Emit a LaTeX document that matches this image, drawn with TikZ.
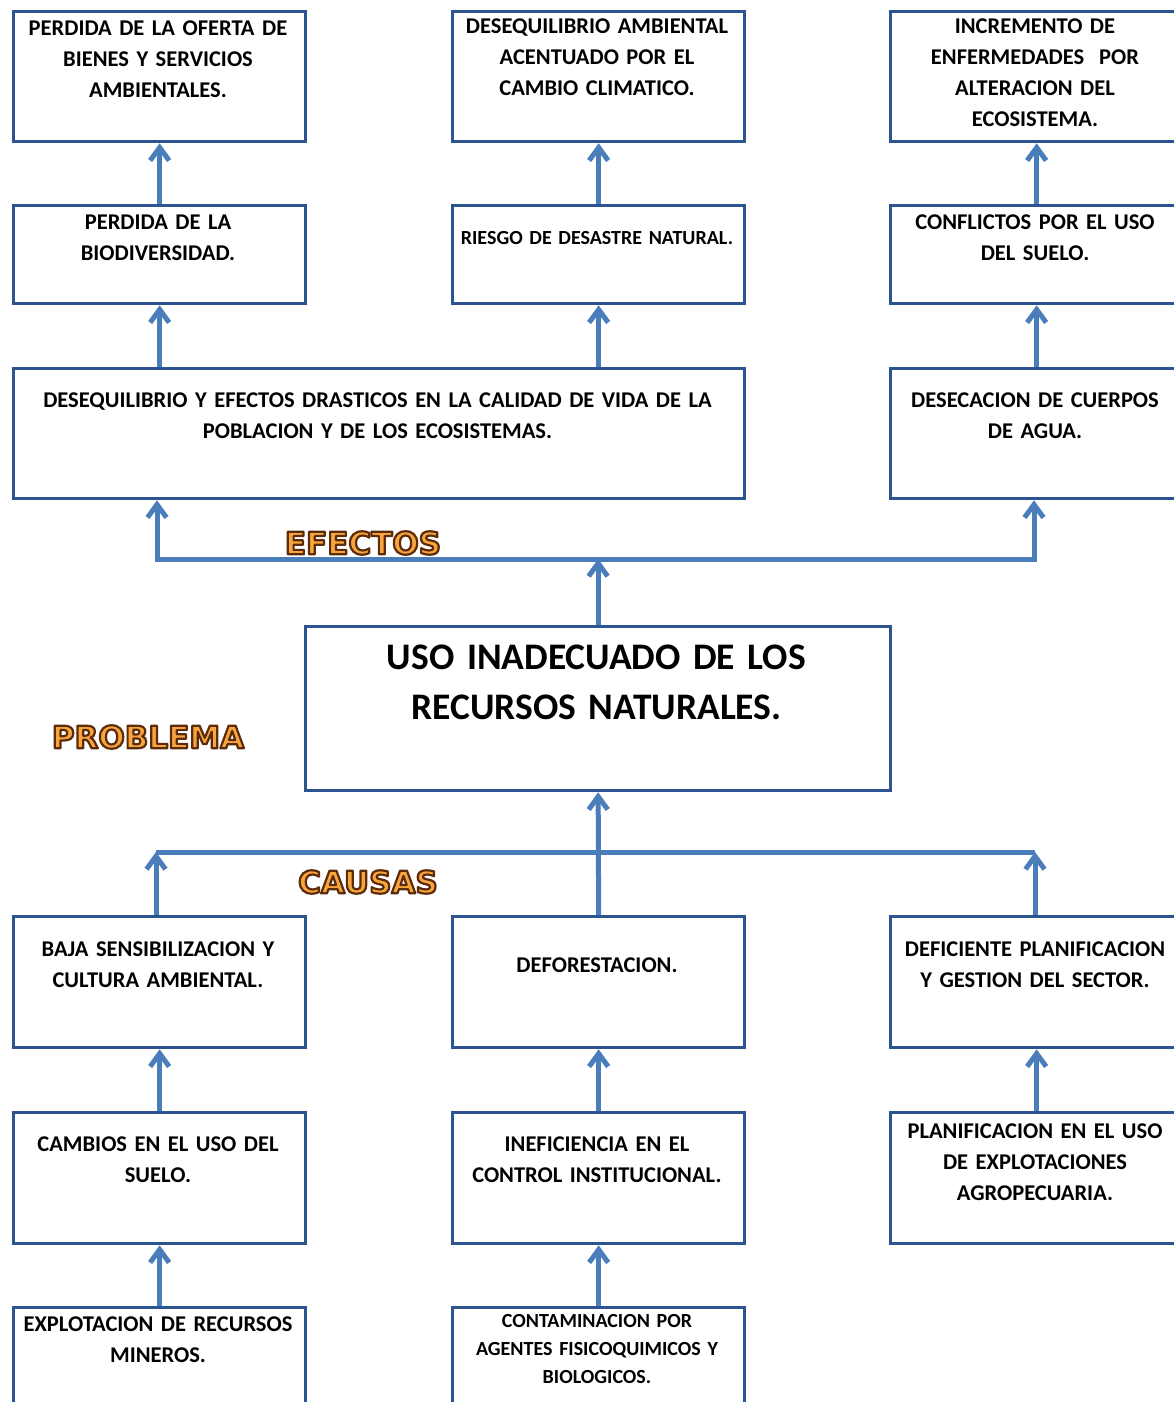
\documentclass[tikz,border=0pt]{standalone}
\usepackage{fontspec}
\setmainfont{Carlito}
\newfontfamily\wafont{DejaVu Sans}
\usetikzlibrary{arrows.meta}
\definecolor{boxblue}{HTML}{2C5490}
\definecolor{arrblue}{HTML}{4A7EBB}
\definecolor{waorange}{HTML}{F8A53E}
\tikzset{
  box/.style={draw=boxblue, line width=3.3pt, rectangle, inner sep=0pt, anchor=north west, minimum width=292pt},
  txt/.style={text width=288pt, align=center, inner sep=0pt, anchor=north, font=\fontsize{22.5}{31}\selectfont\bfseries},
  smalltxt/.style={txt, font=\fontsize{20}{28}\selectfont\bfseries},
  conn/.style={draw=arrblue, line width=5pt},
  tip/.tip={Straight Barb[length=13pt,width=19pt]},
  wa/.style={inner sep=0pt, text=waorange, font=\wafont\bfseries\fontsize{31}{31}\selectfont},
}
% outlined word-art text: fill orange, stroke dark brown
\newcommand{\outlinetext}[1]{\special{pdf:literal direct 2 Tr 2.2 w 1 j 0.36 0.17 0.04 RG}#1\special{pdf:literal direct 0 Tr}}
\begin{document}
\begin{tikzpicture}[x=1pt,y=-1pt]
\clip (0,0) rectangle (1174,1402);
\fill[white] (0,0) rectangle (1174,1402);
% ---- effects, top row
\node[box, minimum height=130pt] (A1) at (12,10) {};
\node[box, minimum height=130pt] (A2) at (451,10) {};
\node[box, minimum height=130pt] (A3) at (889,10) {};
\node[txt] (tA1) at (158,21) {PERDIDA DE LA OFERTA DE\\BIENES Y SERVICIOS\\AMBIENTALES.};
\node[txt] (tA2) at (597,19) {DESEQUILIBRIO AMBIENTAL\\ACENTUADO POR EL\\CAMBIO CLIMATICO.};
\node[txt] (tA3) at (1035,19) {INCREMENTO DE\\ENFERMEDADES\ \ POR\\ALTERACION DEL\\ECOSISTEMA.};
% second row
\node[box, minimum height=98pt] (B1) at (12,204) {};
\node[box, minimum height=98pt] (B2) at (451,204) {};
\node[box, minimum height=98pt] (B3) at (889,204) {};
\node[txt] (tB1) at (158,215) {PERDIDA DE LA\\BIODIVERSIDAD.};
\node[smalltxt] (tB2) at (597,231.5) {RIESGO DE DESASTRE NATURAL.};
\node[txt] (tB3) at (1035,215) {CONFLICTOS POR EL USO\\DEL SUELO.};
% third row
\node[box, minimum height=130pt, minimum width=731pt] (C1) at (12,367) {};
\node[box, minimum height=130pt] (C3) at (889,367) {};
\node[txt, text width=724pt] (tC1) at (377.5,393) {DESEQUILIBRIO Y EFECTOS DRASTICOS EN LA CALIDAD DE VIDA DE LA\\POBLACION Y DE LOS ECOSISTEMAS.};
\node[txt] (tC3) at (1035,393) {DESECACION DE CUERPOS\\DE AGUA.};
% ---- problem
\node[box, minimum height=164pt, minimum width=585pt] (M) at (304,625) {};
\node[txt, text width=575pt, font=\fontsize{37.5}{50}\selectfont\bfseries] (tM) at (596.5,645) {USO INADECUADO DE LOS\\RECURSOS NATURALES.};
% ---- causes
\node[box, minimum height=131pt] (D1) at (12,915) {};
\node[box, minimum height=131pt] (D2) at (451,915) {};
\node[box, minimum height=131pt] (D3) at (889,915) {};
\node[txt] (tD1) at (158,942) {BAJA SENSIBILIZACION Y\\CULTURA AMBIENTAL.};
\node[txt] (tD2) at (597,958) {DEFORESTACION.};
\node[txt] (tD3) at (1035,942) {DEFICIENTE PLANIFICACION\\Y GESTION DEL SECTOR.};
\node[box, minimum height=131pt] (E1) at (12,1111) {};
\node[box, minimum height=131pt] (E2) at (451,1111) {};
\node[box, minimum height=131pt] (E3) at (889,1111) {};
\node[txt] (tE1) at (158,1137) {CAMBIOS EN EL USO DEL\\SUELO.};
\node[txt] (tE2) at (597,1137) {INEFICIENCIA EN EL\\CONTROL INSTITUCIONAL.};
\node[txt] (tE3) at (1035,1124) {PLANIFICACION EN EL USO\\DE EXPLOTACIONES\\AGROPECUARIA.};
\node[box, minimum height=130pt] (F1) at (12,1306) {};
\node[box, minimum height=130pt] (F2) at (451,1306) {};
\node[txt] (tF1) at (158,1317) {EXPLOTACION DE RECURSOS\\MINEROS.};
\node[smalltxt] (tF2) at (597,1314.5) {CONTAMINACION POR\\AGENTES FISICOQUIMICOS Y\\BIOLOGICOS.};
% ---- connectors (effects)
\draw[conn,-tip] (B1.north) -- (A1.south);
\draw[conn,-tip] (B2.north) -- (A2.south);
\draw[conn,-tip] (B3.north) -- (A3.south);
\draw[conn,-tip] (C1.north -| B1.north) -- (B1.south);
\draw[conn,-tip] (C1.north -| B2.north) -- (B2.south);
\draw[conn,-tip] (C3.north) -- (B3.south);
\coordinate (eL) at (157,559);
\coordinate (eR) at (1034,559);
\draw[conn,tip-tip] (eL |- C1.south) -- (eL) -- (eR) -- (eR |- C3.south);
\draw[conn,-tip] (M.north) -- (M.north |- eL);
% ---- connectors (causes)
\coordinate (cL) at (156,852);
\coordinate (cR) at (1035,852);
\draw[conn] (cL) -- (cR);
\draw[conn,-tip] (cL |- D1.north) -- (cL);
\draw[conn,-tip] (cR |- D3.north) -- (cR);
\draw[conn,-tip] (D2.north) -- (M.south);
\draw[conn,-tip] (E1.north) -- (D1.south);
\draw[conn,-tip] (E2.north) -- (D2.south);
\draw[conn,-tip] (E3.north) -- (D3.south);
\draw[conn,-tip] (F1.north) -- (E1.south);
\draw[conn,-tip] (F2.north) -- (E2.south);
% ---- word art labels
\node[wa] (efectos) at (363,543) {\outlinetext{EFECTOS}};
\node[wa] (problema) at (148,737) {\outlinetext{PROBLEMA}};
\node[wa] (causas) at (368,882) {\outlinetext{CAUSAS}};
\end{tikzpicture}
\end{document}
